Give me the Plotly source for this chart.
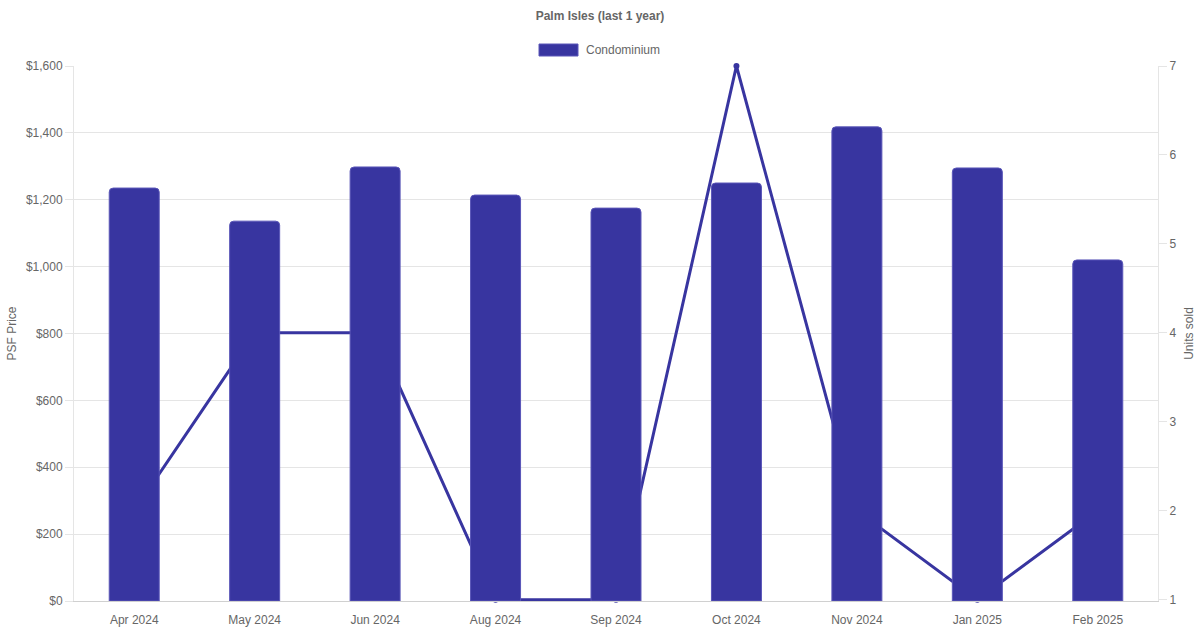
import plotly.graph_objects as go

months = ["Apr 2024", "May 2024", "Jun 2024", "Aug 2024", "Sep 2024",
          "Oct 2024", "Nov 2024", "Jan 2025", "Feb 2025"]
psf_price = [1235, 1136, 1298, 1214, 1175, 1250, 1418, 1295, 1020]
units_sold = [2, 4, 4, 1, 1, 7, 2, 1, 2]

BAR = "#3835a0"
GRID = "#e5e5e5"
TXT = "#666666"
FONT = "Liberation Sans, Arial, sans-serif"

W, H = 1200, 630
L, R, T, B = 74, 42, 66, 29
PW, PH = W - L - R, H - T - B

def px(x):
    return (x - L) / PW

def py(y):
    return (H - B - y) / PH

fig = go.Figure()

fig.add_trace(go.Scatter(
    x=months, y=units_sold, yaxis="y", mode="lines+markers",
    line=dict(color=BAR, width=3), marker=dict(color=BAR, size=6),
    showlegend=False, cliponaxis=False, name="Units sold",
))

fig.add_trace(go.Bar(
    x=months, y=psf_price, yaxis="y2", name="Condominium",
    marker=dict(color=BAR, line=dict(color="#5a56b8", width=1), cornerradius=4),
    showlegend=False,
))

fig.update_layout(
    width=W, height=H,
    margin=dict(l=L, r=R, t=T, b=B, autoexpand=False),
    paper_bgcolor="white", plot_bgcolor="white",
    font=dict(family=FONT, size=12, color=TXT),
    title=dict(text="<b>Palm Isles (last 1 year)</b>", x=0.5, xanchor="center",
               y=1 - 16 / H, yanchor="middle", yref="container",
               font=dict(size=12, color=TXT, family=FONT)),
    bargap=0.585,
    xaxis=dict(type="category", showgrid=False, showline=True, linecolor="#d0d0d0",
               ticks="", ticklabelstandoff=8, tickfont=dict(size=12, color=TXT),
               zeroline=False, automargin=False),
    yaxis=dict(side="right", range=[0.985, 7], tickvals=[1, 2, 3, 4, 5, 6, 7],
               showgrid=False, zeroline=False, automargin=False,
               showline=True, linecolor=GRID, ticks="outside", ticklen=8,
               tickcolor=GRID, tickfont=dict(size=12, color=TXT),
               title=dict(text="Units sold", font=dict(size=12, color=TXT), standoff=9)),
    yaxis2=dict(overlaying="y", side="left", range=[0, 1600], dtick=200,
                showgrid=True, gridcolor=GRID, zeroline=False, automargin=False,
                showline=True, linecolor=GRID, ticks="outside", ticklen=8,
                tickcolor=GRID, tickprefix="$", tickformat=",",
                tickfont=dict(size=12, color=TXT),
                title=dict(text="PSF Price", font=dict(size=12, color=TXT), standoff=6)),
    shapes=[dict(type="rect", xref="paper", yref="paper",
                 x0=px(539), x1=px(578), y0=py(56), y1=py(44),
                 fillcolor=BAR, line=dict(color="#5a56b8", width=1))],
    annotations=[dict(text="Condominium", xref="paper", yref="paper",
                      x=px(584), y=py(50), xanchor="left", yanchor="middle",
                      showarrow=False, font=dict(size=12, color=TXT, family=FONT))],
)

fig.write_html("out.html", config={"displayModeBar": False},
               post_script="document.body.style.margin='0';")
